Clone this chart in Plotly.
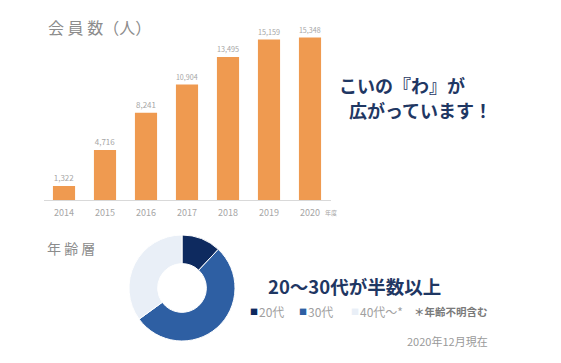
import plotly.graph_objects as go

# ---- data ----
years = ["2014", "2015", "2016", "2017", "2018", "2019", "2020"]
members = [1322, 4716, 8241, 10904, 13495, 15159, 15348]
age_labels = ["20代", "30代", "40代〜*"]
age_share = [12, 53, 35]
age_colors = ["#0e2a5f", "#2e5fa3", "#e9eff7"]

W, H = 561, 363
JP = "Noto Sans CJK JP"
NAVY = "#1f3763"
GRAY = "#8c8c8c"


def px(x):
    return x / W


def py(y):
    return 1 - y / H


fig = go.Figure()
fig.add_trace(go.Bar(
    x=years, y=members,
    marker=dict(color="#ef9a50", line=dict(width=0)),
    text=members, texttemplate="%{y:,}", textposition="outside",
    textfont=dict(size=8, color="#a6a6a6", family=JP),
    cliponaxis=False, xaxis="x", yaxis="y", showlegend=False,
))
fig.add_trace(go.Pie(
    labels=age_labels, values=age_share,
    marker=dict(colors=age_colors, line=dict(color="white", width=1)),
    hole=0.46, sort=False, direction="clockwise", rotation=0,
    textinfo="none", hoverinfo="label+percent", showlegend=False,
    domain=dict(x=[px(129), px(235)], y=[py(341), py(235)]),
))

annotations = [
    dict(text="会 員 数（人）", x=px(46), y=py(27), font=dict(size=16, color=GRAY)),
    dict(text="<b>こいの『わ』が</b>", x=px(337), y=py(85), font=dict(size=18, color=NAVY)),
    dict(text="<b>広がっています！</b>", x=px(347), y=py(110), font=dict(size=18, color=NAVY)),
    dict(text="年 齢 層", x=px(45), y=py(248), font=dict(size=14, color=GRAY)),
    dict(text="<b>20〜30代が半数以上</b>", x=px(266), y=py(286), font=dict(size=18.5, color=NAVY)),
    dict(text="<b>＊年齢不明含む</b>", x=px(412), y=py(311), font=dict(size=10.5, color="#7a7a7a")),
    dict(text="2020年12月現在", x=px(405), y=py(341), font=dict(size=11, color="#9a9a9a")),
    dict(text="年度", x=px(323), y=py(212), font=dict(size=6, color="#a6a6a6")),
]
leg_x = [248, 297, 349]
for lab, col, lx in zip(age_labels, age_colors, leg_x):
    annotations.append(dict(text="■", x=px(lx), y=py(311), font=dict(size=8, color=col)))
    annotations.append(dict(text=lab, x=px(lx + 9), y=py(311), font=dict(size=12, color="#a0a0a0")))

for a in annotations:
    a.update(xref="paper", yref="paper", xanchor="left", yanchor="middle", showarrow=False)
    a["font"].setdefault("family", JP)

fig.update_layout(
    width=W, height=H,
    margin=dict(l=0, r=0, t=0, b=0),
    paper_bgcolor="white", plot_bgcolor="white",
    font=dict(family=JP),
    bargap=0.46,
    xaxis=dict(domain=[px(43.5), px(330.5)], range=[-0.5, 6.5], type="category",
               showgrid=False, zeroline=False, showline=True, linecolor="#d9d9d9",
               linewidth=1, ticks="", tickfont=dict(size=9, color="#a6a6a6", family=JP),
               ticklabelstandoff=4, fixedrange=True),
    yaxis=dict(domain=[py(200), py(20)], range=[0, 17000], visible=False,
               showgrid=False, zeroline=False, fixedrange=True),
    annotations=annotations,
)

fig.write_html(
    "out.html",
    config={"displayModeBar": False},
    post_script="document.body.style.margin='0';document.body.style.overflow='hidden';",
)
